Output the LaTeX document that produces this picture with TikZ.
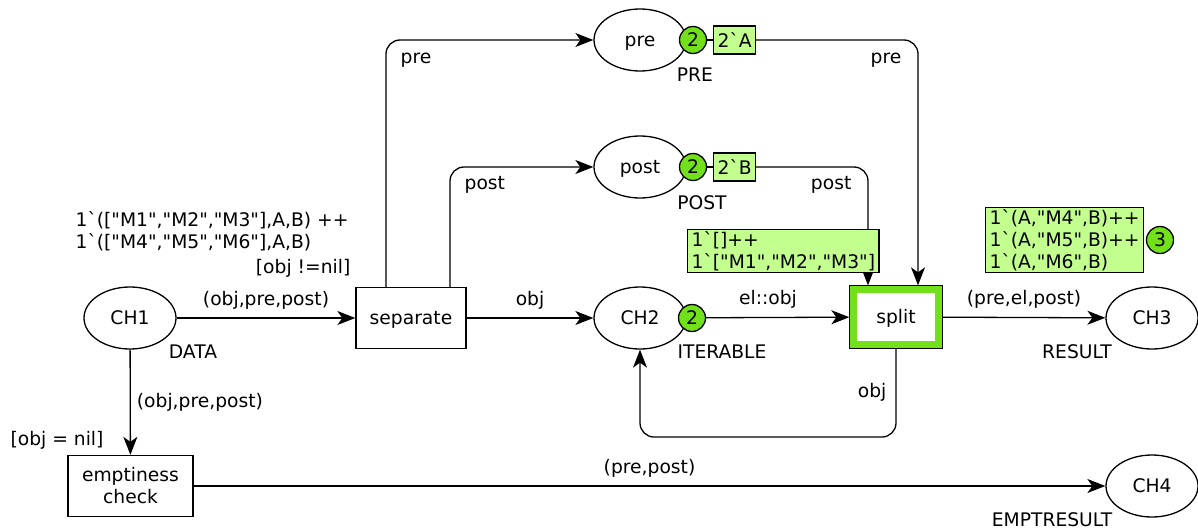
\documentclass[tikz,border=0pt]{standalone}
\usepackage{fontspec}
\setmainfont{DejaVu Sans}[Ligatures=TeXOff]
\usetikzlibrary{arrows.meta,shapes.geometric}

\definecolor{tokengreen}{rgb}{0.45,0.88,0.11}
\definecolor{markgreen}{rgb}{0.76,1.00,0.56}

\tikzset{
  place/.style={ellipse,draw,minimum width=92pt,minimum height=62pt,inner sep=0pt,
    text height=14pt,text depth=2pt},
  trans/.style={rectangle,draw,minimum width=110pt,minimum height=61pt,inner sep=0pt,align=center},
  oneline/.style={text height=14pt,text depth=2pt},
  token/.style={circle,draw,fill=tokengreen,minimum size=27pt,inner sep=0pt},
  marking/.style={rectangle,draw,fill=markgreen,inner xsep=4pt,inner ysep=2pt,
    minimum height=28pt,align=left},
  arc/.style={-{Stealth[length=18pt,width=14pt,inset=5pt]}},
  lbl/.style={inner sep=0pt,align=left},
}

\begin{document}
\begin{tikzpicture}[x=1pt,y=-1pt,line width=1.3pt,
  font=\fontsize{18.7}{22}\selectfont]
\useasboundingbox (0,0) rectangle (1198,530);

% places
\node[place] (CH1) at (130,318) {CH1};
\node[place] (CH2) at (640,318) {CH2};
\node[place] (CH3) at (1152,318) {CH3};
\node[place] (CH4) at (1152,486) {CH4};
\node[place] (pre) at (640,40) {pre};
\node[place] (post) at (640,167) {post};

% colour sets
\node[lbl] at (193,352) {DATA};
\node[lbl] at (722,352) {ITERABLE};
\node[lbl] at (1077,352) {RESULT};
\node[lbl] at (1052,520) {EMPTRESULT};
\node[lbl] at (695,75) {PRE};
\node[lbl] at (702,203) {POST};

% transitions
\node[trans,oneline] (separate) at (411,318) {separate};
\node[trans,oneline,minimum width=92pt,minimum height=62pt] (split) at (896,317) {split};
\draw[tokengreen,line width=7pt] ([shift={(4.5,4.5)}]split.north west)
  rectangle ([shift={(-4.5,-4.5)}]split.south east);
\node[trans,minimum width=125pt] (empty) at (130.5,486) {emptiness\\check};

% guards
\node[lbl,anchor=east] at (351,268) {[obj !=nil]};
\node[lbl] at (57,440) {[obj = nil]};

% arcs
\draw[arc] (CH1) -- node[lbl,above=8pt] {(obj,pre,post)} (separate);
\draw[arc] (separate) -- node[lbl,above=8pt] {obj} (CH2);
\draw[arc] (CH2) -- node[lbl,above=8pt] {el::obj} (split);
\draw[arc] (split) -- node[lbl,above=8pt] {(pre,el,post)} (CH3);
\draw[arc] (empty) -- node[lbl,above=8pt] {(pre,post)} (CH4);
\draw[arc] (CH1) -- node[lbl,right=6pt] {(obj,pre,post)} (empty);
\draw[arc,rounded corners=14pt] ([xshift=-25pt]separate.north) |-
  node[lbl,pos=0.5,anchor=north west,xshift=14pt,yshift=-12pt] {pre} (pre);
\draw[arc,rounded corners=14pt] ([xshift=39pt]separate.north) |-
  node[lbl,pos=0.5,anchor=north west,xshift=14pt,yshift=-9pt] {post} (post);
\draw[arc,rounded corners=14pt] (pre) -|
  node[lbl,pos=0.5,anchor=north east,xshift=-16pt,yshift=-12pt] {pre} ([xshift=22pt]split.north);
\draw[arc,rounded corners=14pt] (post) -|
  node[lbl,pos=0.5,anchor=north east,xshift=-16pt,yshift=-9pt] {post} ([xshift=-28pt]split.north);
\coordinate (loop) at (640,437);
\draw[arc,rounded corners=14pt] (split.south) |-
  node[lbl,pos=0.25,left=9pt] {obj} (loop) -- (CH2.south);

% markings
\node[lbl,anchor=west] (initCH1) at (75,231) {1`(["M1","M2","M3"],A,B) ++\\1`(["M4","M5","M6"],A,B)};
\node[marking,anchor=west] (markpre) at (713,40) {2`A};
\node[token] (tokpre) at (693,40) {2};
\draw (tokpre) -- (markpre);
\node[marking,anchor=west] (markpost) at (713,167) {2`B};
\node[token] (tokpost) at (693,167) {2};
\draw (tokpost) -- (markpost);
\node[token] (tokCH2) at (692,318) {2};
\node[marking,anchor=west] (markCH2) at (687,251) {1`[]++\\1`["M1","M2","M3"]};
\node[marking,anchor=west] (markCH3) at (985,240) {1`(A,"M4",B)++\\1`(A,"M5",B)++\\1`(A,"M6",B)};
\node[token] (tokCH3) at (1160,240) {3};
\end{tikzpicture}
\end{document}
